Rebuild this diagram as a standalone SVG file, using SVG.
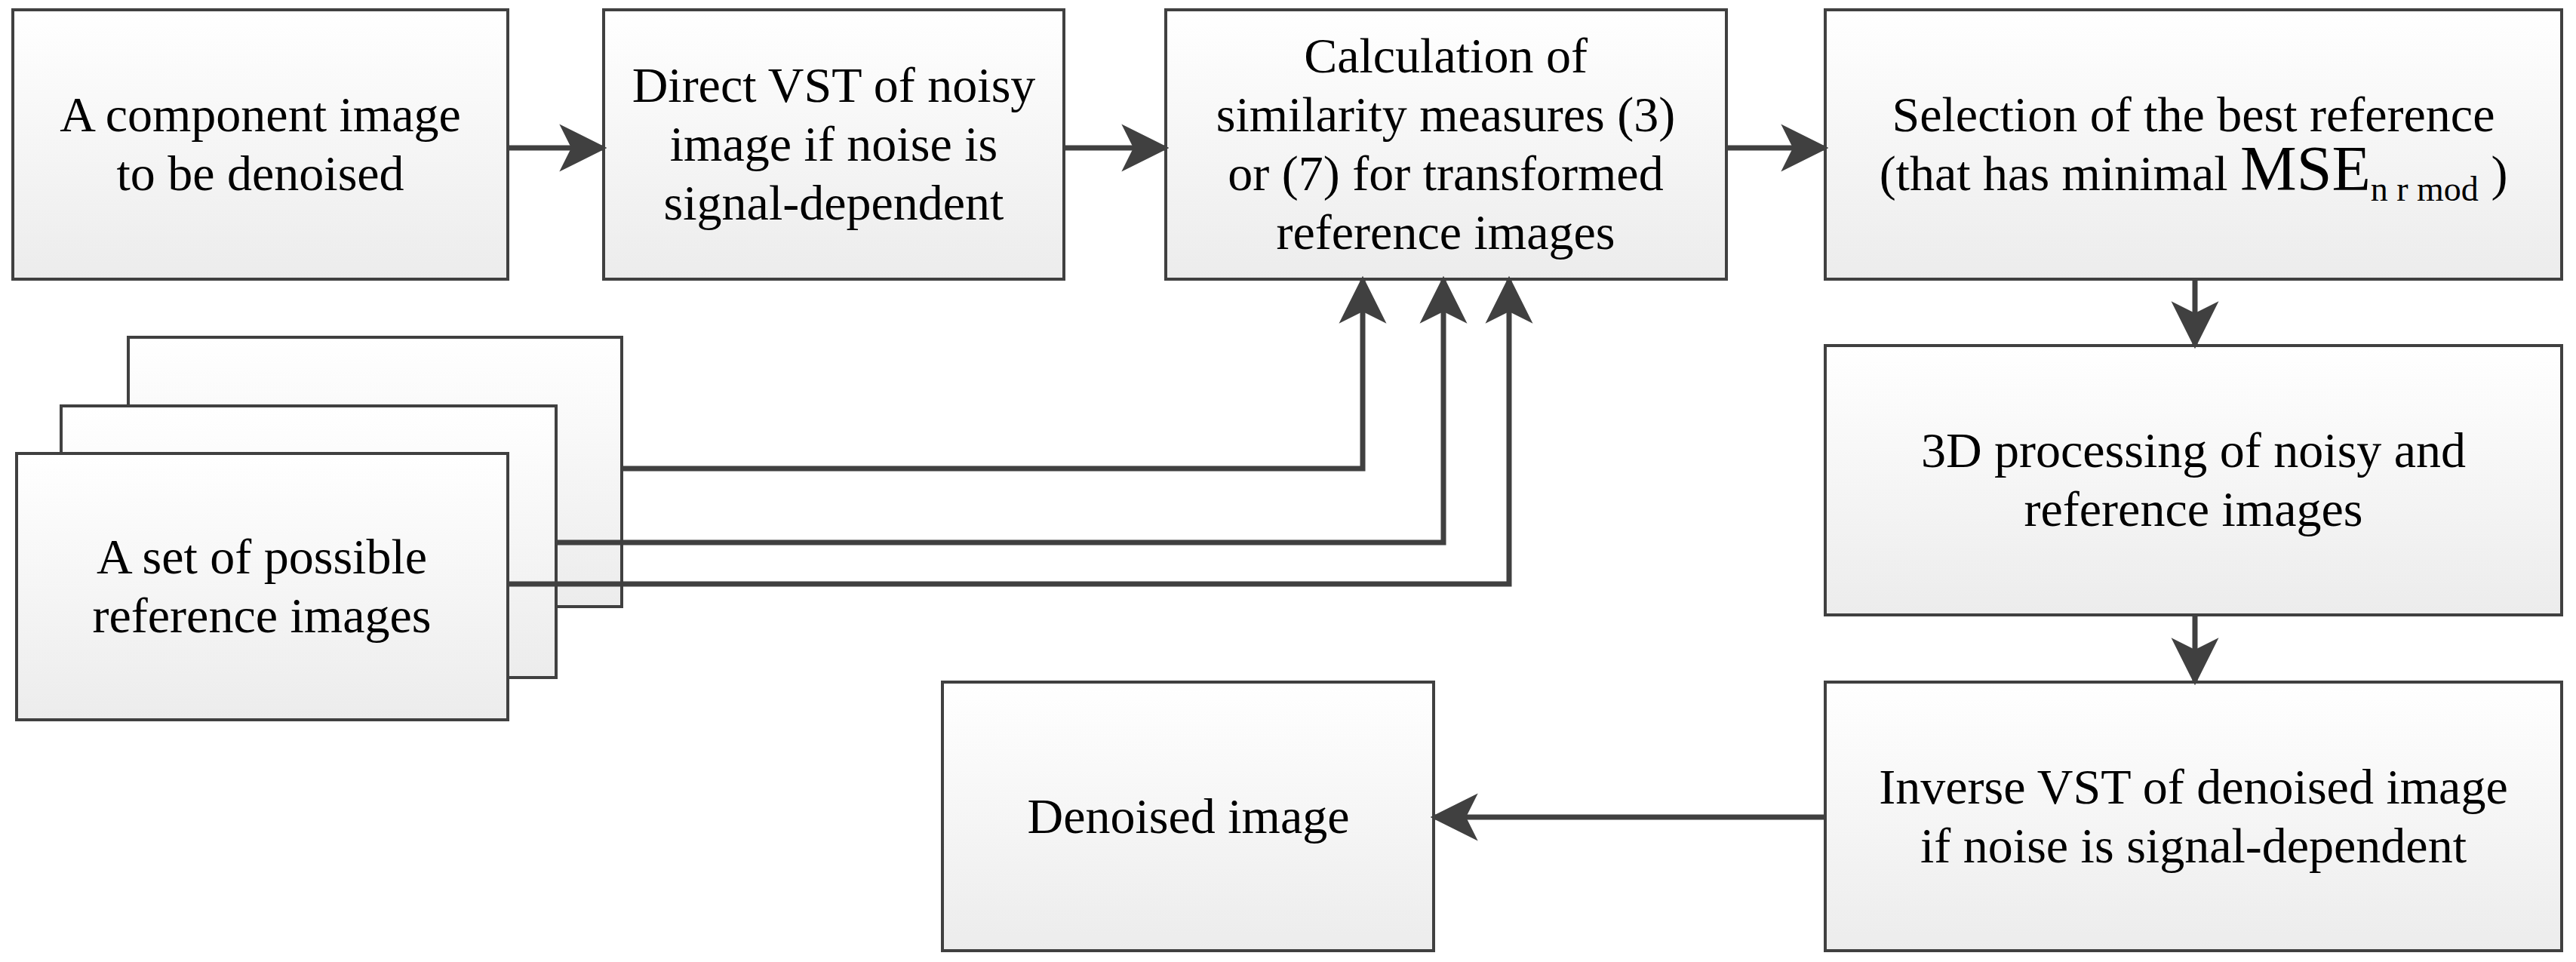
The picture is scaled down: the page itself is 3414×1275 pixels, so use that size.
<svg xmlns="http://www.w3.org/2000/svg" width="3414" height="1275" viewBox="0 0 3414 1275">
<defs>
<linearGradient id="g" x1="0" y1="0" x2="0" y2="1"><stop offset="0" stop-color="#ffffff"/><stop offset="1" stop-color="#ececec"/></linearGradient>
<marker id="ah" viewBox="0 0 10 10" refX="9" refY="5" markerWidth="9" markerHeight="11" markerUnits="strokeWidth" orient="auto"><path d="M0,0 L10,5 L0,10 L2.5,5 Z" fill="#404040"/></marker>
<style>
.b{fill:url(#g);stroke:#404040;stroke-width:4}
.t{font-size:66px;fill:#000;text-anchor:middle}
.c{fill:none;stroke:#404040;stroke-width:7}
</style>
</defs>
<g font-family="Liberation Serif, serif">
<g id="n1"><rect class="b" x="17" y="13" width="656" height="357"/><text class="t" x="345" y="174">A component image</text><text class="t" x="345" y="252">to be denoised</text></g>
<g id="n2"><rect class="b" x="800" y="13" width="610" height="357"/><text class="t" x="1105" y="135">Direct VST of noisy</text><text class="t" x="1105" y="213">image if noise is</text><text class="t" x="1105" y="291">signal-dependent</text></g>
<g id="n3"><rect class="b" x="1545" y="13" width="743" height="357"/><text class="t" x="1916" y="96">Calculation of</text><text class="t" x="1916" y="174">similarity measures (3)</text><text class="t" x="1916" y="252">or (7) for transformed</text><text class="t" x="1916" y="330">reference images</text></g>
<g id="n4"><rect class="b" x="2419" y="13" width="976" height="357"/><text class="t" x="2907" y="174">Selection of the best reference</text><text class="t" x="2907" y="252">(that has minimal <tspan font-size="84">MSE</tspan><tspan font-size="46" dy="14">n r mod</tspan><tspan dy="-14"> )</tspan></text></g>
<g id="n5"><rect class="b" x="2419" y="458" width="976" height="357"/><text class="t" x="2907" y="619">3D processing of noisy and</text><text class="t" x="2907" y="697">reference images</text></g>
<g id="n6"><rect class="b" x="2419" y="904" width="976" height="356"/><text class="t" x="2907" y="1065">Inverse VST of denoised image</text><text class="t" x="2907" y="1143">if noise is signal-dependent</text></g>
<g id="n7"><rect class="b" x="1249" y="904" width="651" height="356"/><text class="t" x="1575" y="1104">Denoised image</text></g>
<g id="n8"><rect class="b" x="170" y="447" width="654" height="357"/><rect class="b" x="81" y="538" width="656" height="360"/><rect class="b" x="22" y="601" width="651" height="353"/><text class="t" x="347" y="760">A set of possible</text><text class="t" x="347" y="838">reference images</text></g>
</g>
<g id="connectors">
<path class="c" d="M673,196 H798" marker-end="url(#ah)"/>
<path class="c" d="M1410,196 H1543" marker-end="url(#ah)"/>
<path class="c" d="M2288,196 H2417" marker-end="url(#ah)"/>
<path class="c" d="M2909,370 V456" marker-end="url(#ah)"/>
<path class="c" d="M2909,815 V902" marker-end="url(#ah)"/>
<path class="c" d="M2419,1083 H1902" marker-end="url(#ah)"/>
<path class="c" d="M824,621 H1806 V372" marker-end="url(#ah)"/>
<path class="c" d="M737,719 H1913 V372" marker-end="url(#ah)"/>
<path class="c" d="M673,774 H2000 V372" marker-end="url(#ah)"/>
</g>
</svg>
